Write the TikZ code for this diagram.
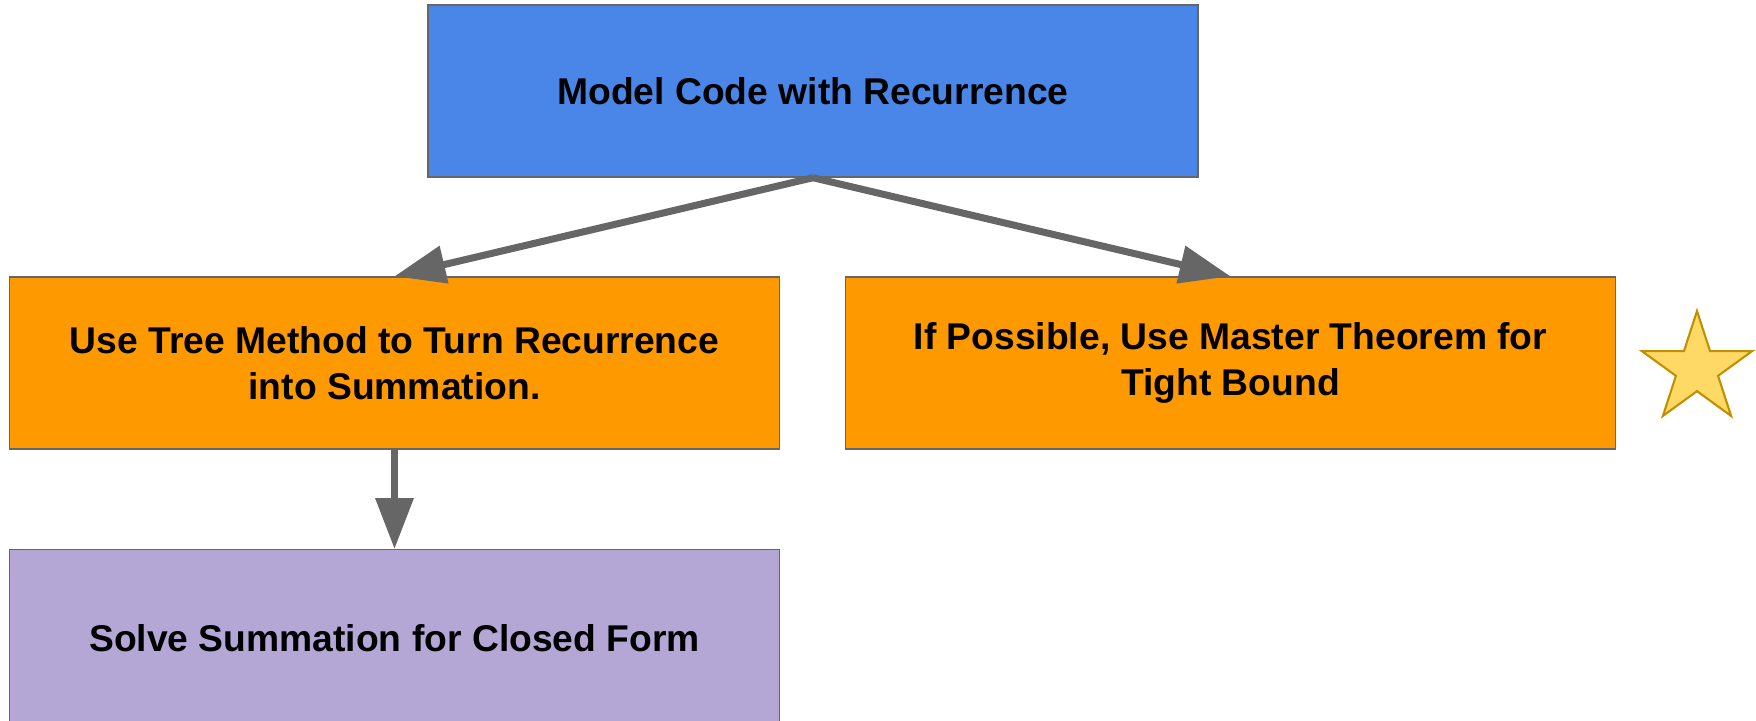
\documentclass[tikz,border=0pt]{standalone}
\usepackage{fontspec}
\setmainfont{Liberation Sans}
\usepackage{xcolor}
\definecolor{stepblue}{RGB}{74, 134, 232}
\definecolor{steporange}{RGB}{255, 153, 0}
\definecolor{steppurple}{RGB}{180, 167, 214}
\definecolor{starfill}{RGB}{255, 217, 102}
\definecolor{starframe}{RGB}{191, 144, 0}
\definecolor{lineframe}{RGB}{102, 102, 102}
\usetikzlibrary{
    shapes.geometric,
    arrows.meta
}
\tikzstyle{stepbox} = [
    rectangle,
    draw=lineframe,
    line width=0.4pt,
    minimum width=77mm,
    minimum height=17.2mm,
    inner sep=0pt,
    align=center,
    font=\fontsize{10.6}{13.2}\selectfont\bfseries
]
\tikzstyle{arrow} = [
    -{Triangle[length=14.5pt, width=10.5pt]},
    draw=lineframe,
    line width=2pt
]

\begin{document}
\begin{tikzpicture}[x=0.1mm, y=-0.1mm]
    \useasboundingbox (0,0) rectangle (1756,721);

    % Top step
    \node[stepbox, fill=stepblue] (model) at (813,91) {Model Code with Recurrence};

    % Two ways to go
    \node[stepbox, fill=steporange] (tree) at (394.5,363)
        {Use Tree Method to Turn Recurrence\\into Summation.};
    \node[stepbox, fill=steporange] (master) at (1230.5,363)
        {If Possible, Use Master Theorem for\\Tight Bound};

    % Last step (runs off the page)
    \node[stepbox, fill=steppurple, minimum height=18mm, anchor=north] (solve) at (394.5,549)
        {\raisebox{0.4mm}{Solve Summation for Closed Form}};

    % Star
    \node[star, star points=5, star point ratio=2.618, draw=starframe, fill=starfill,
        line width=0.6pt, minimum size=11.6mm, inner sep=0pt] (bonus) at (1697,369) {};

    % Arrows
    \draw[arrow] (model.south) -- (tree.north);
    \draw[arrow] (model.south) -- (master.north);
    \draw[arrow] (tree.south) -- (solve.north);
\end{tikzpicture}
\end{document}
